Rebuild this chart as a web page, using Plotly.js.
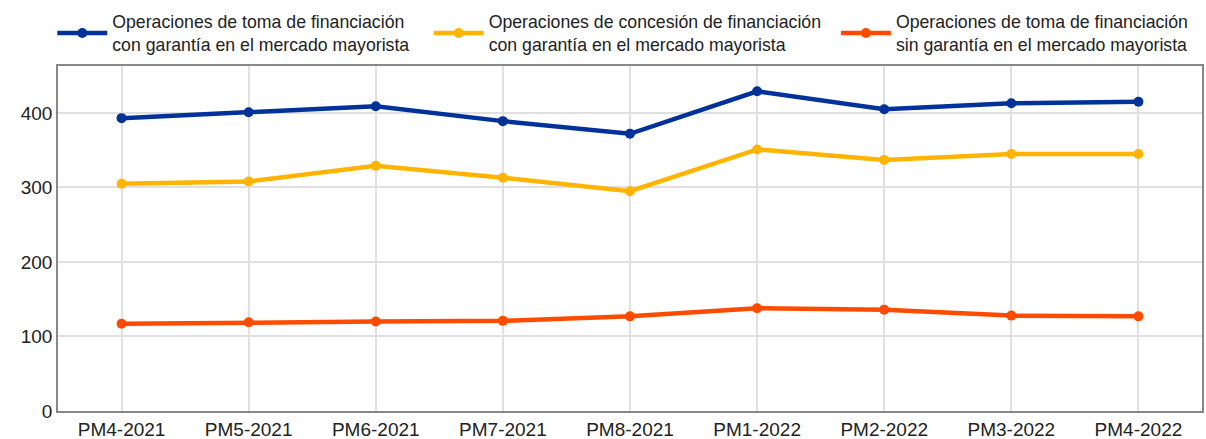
<!DOCTYPE html>
<html>
<head>
<meta charset="utf-8">
<script src="https://cdn.plot.ly/plotly-3.0.1.min.js"></script>
<style>
  html, body { margin: 0; padding: 0; background: #fff; }
  #chart { width: 1206px; height: 439px; }
</style>
</head>
<body>
<div id="chart"></div>
<script>
var periods = ['PM4-2021', 'PM5-2021', 'PM6-2021', 'PM7-2021', 'PM8-2021', 'PM1-2022', 'PM2-2022', 'PM3-2022', 'PM4-2022'];

var tomaConGarantia = [393, 401, 409, 389, 372, 429, 405, 413, 415];
var concesionConGarantia = [305, 308, 329, 313, 295, 351, 337, 345, 345];
var tomaSinGarantia = [117, 119, 120, 121, 127, 138, 136, 128, 127];

var names = [
  'Operaciones de toma de financiación<br>con garantía en el mercado mayorista',
  'Operaciones de concesión de financiación<br>con garantía en el mercado mayorista',
  'Operaciones de toma de financiación<br>sin garantía en el mercado mayorista'
];
var colors = ['#003299', '#ffb400', '#ff4b00'];
var legendIds = ['legend', 'legend2', 'legend3'];
var legendX = [-0.005, 0.324, 0.68];

var series = [tomaConGarantia, concesionConGarantia, tomaSinGarantia];
var data = series.map(function (vals, i) {
  return {
    x: periods,
    y: vals,
    name: names[i],
    legend: legendIds[i],
    type: 'scatter',
    mode: 'lines+markers',
    line: {color: colors[i], width: 4.5},
    marker: {color: colors[i], size: 10}
  };
});

var layout = {
  width: 1206,
  height: 439,
  margin: {l: 58, r: 4, t: 64, b: 28},
  paper_bgcolor: '#fff',
  plot_bgcolor: '#fff',
  font: {family: 'Liberation Sans, Arial, sans-serif', color: '#222'},
  showlegend: true,
  xaxis: {
    range: [-0.5, 8.5],
    showgrid: true,
    gridcolor: '#e0e0e0',
    gridwidth: 2,
    showline: true,
    linecolor: '#888',
    linewidth: 1.5,
    mirror: true,
    ticks: '',
    tickfont: {size: 19, color: '#222'},
    zeroline: false
  },
  yaxis: {
    range: [0, 463],
    tickvals: [0, 100, 200, 300, 400],
    showgrid: true,
    gridcolor: '#e0e0e0',
    gridwidth: 2,
    showline: true,
    linecolor: '#888',
    linewidth: 1.5,
    mirror: true,
    ticks: '',
    tickfont: {size: 19, color: '#222'},
    zeroline: false
  }
};

legendIds.forEach(function (id, i) {
  layout[id] = {
    x: legendX[i], xanchor: 'left',
    y: 1.181, yanchor: 'top',
    itemwidth: 50,
    font: {size: 17.7, color: '#222'},
    bgcolor: 'rgba(0,0,0,0)'
  };
});

Plotly.newPlot('chart', data, layout, {displayModeBar: false});
</script>
</body>
</html>
